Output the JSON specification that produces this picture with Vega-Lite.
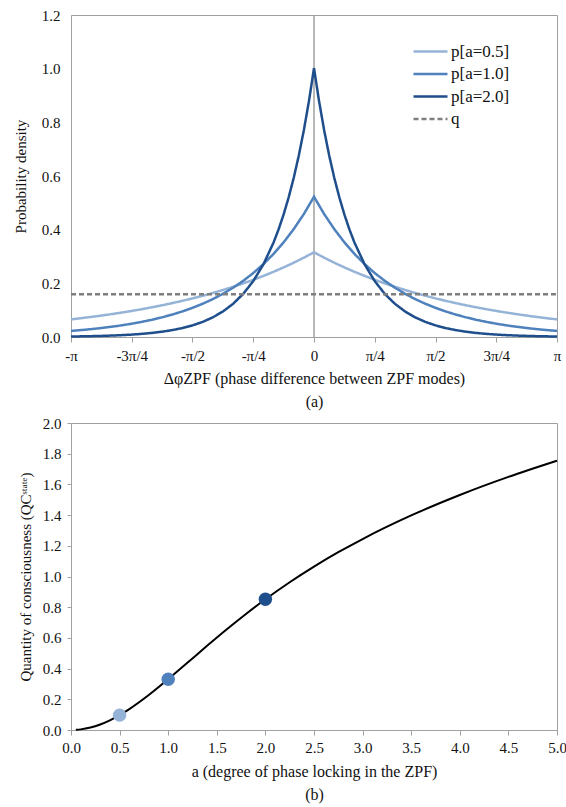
{
  "$schema": "https://vega.github.io/schema/vega-lite/v6.json",
  "background": "white",
  "padding": {"left": 12, "top": 7, "right": 5, "bottom": 2},
  "columns": 1,
  "spacing": 5,
  "datasets": {
    "dens": [
      {"phi": -3.14159, "series": "p[a=0.5]", "density": 0.06561},
      {"phi": -3.0107, "series": "p[a=0.5]", "density": 0.07005},
      {"phi": -2.8798, "series": "p[a=0.5]", "density": 0.07479},
      {"phi": -2.7489, "series": "p[a=0.5]", "density": 0.07985},
      {"phi": -2.618, "series": "p[a=0.5]", "density": 0.08525},
      {"phi": -2.4871, "series": "p[a=0.5]", "density": 0.09101},
      {"phi": -2.3562, "series": "p[a=0.5]", "density": 0.09717},
      {"phi": -2.2253, "series": "p[a=0.5]", "density": 0.10374},
      {"phi": -2.0944, "series": "p[a=0.5]", "density": 0.11076},
      {"phi": -1.9635, "series": "p[a=0.5]", "density": 0.11825},
      {"phi": -1.8326, "series": "p[a=0.5]", "density": 0.12625},
      {"phi": -1.7017, "series": "p[a=0.5]", "density": 0.13479},
      {"phi": -1.5708, "series": "p[a=0.5]", "density": 0.14391},
      {"phi": -1.4399, "series": "p[a=0.5]", "density": 0.15364},
      {"phi": -1.309, "series": "p[a=0.5]", "density": 0.16403},
      {"phi": -1.1781, "series": "p[a=0.5]", "density": 0.17513},
      {"phi": -1.0472, "series": "p[a=0.5]", "density": 0.18697},
      {"phi": -0.9163, "series": "p[a=0.5]", "density": 0.19962},
      {"phi": -0.7854, "series": "p[a=0.5]", "density": 0.21312},
      {"phi": -0.6545, "series": "p[a=0.5]", "density": 0.22753},
      {"phi": -0.5236, "series": "p[a=0.5]", "density": 0.24292},
      {"phi": -0.3927, "series": "p[a=0.5]", "density": 0.25935},
      {"phi": -0.2618, "series": "p[a=0.5]", "density": 0.27689},
      {"phi": -0.1309, "series": "p[a=0.5]", "density": 0.29562},
      {"phi": 0, "series": "p[a=0.5]", "density": 0.31561},
      {"phi": 0.1309, "series": "p[a=0.5]", "density": 0.29562},
      {"phi": 0.2618, "series": "p[a=0.5]", "density": 0.27689},
      {"phi": 0.3927, "series": "p[a=0.5]", "density": 0.25935},
      {"phi": 0.5236, "series": "p[a=0.5]", "density": 0.24292},
      {"phi": 0.6545, "series": "p[a=0.5]", "density": 0.22753},
      {"phi": 0.7854, "series": "p[a=0.5]", "density": 0.21312},
      {"phi": 0.9163, "series": "p[a=0.5]", "density": 0.19962},
      {"phi": 1.0472, "series": "p[a=0.5]", "density": 0.18697},
      {"phi": 1.1781, "series": "p[a=0.5]", "density": 0.17513},
      {"phi": 1.309, "series": "p[a=0.5]", "density": 0.16403},
      {"phi": 1.4399, "series": "p[a=0.5]", "density": 0.15364},
      {"phi": 1.5708, "series": "p[a=0.5]", "density": 0.14391},
      {"phi": 1.7017, "series": "p[a=0.5]", "density": 0.13479},
      {"phi": 1.8326, "series": "p[a=0.5]", "density": 0.12625},
      {"phi": 1.9635, "series": "p[a=0.5]", "density": 0.11825},
      {"phi": 2.0944, "series": "p[a=0.5]", "density": 0.11076},
      {"phi": 2.2253, "series": "p[a=0.5]", "density": 0.10374},
      {"phi": 2.3562, "series": "p[a=0.5]", "density": 0.09717},
      {"phi": 2.4871, "series": "p[a=0.5]", "density": 0.09101},
      {"phi": 2.618, "series": "p[a=0.5]", "density": 0.08525},
      {"phi": 2.7489, "series": "p[a=0.5]", "density": 0.07985},
      {"phi": 2.8798, "series": "p[a=0.5]", "density": 0.07479},
      {"phi": 3.0107, "series": "p[a=0.5]", "density": 0.07005},
      {"phi": 3.14159, "series": "p[a=0.5]", "density": 0.06561},

      {"phi": -3.14159, "series": "p[a=1.0]", "density": 0.02258},
      {"phi": -3.0107, "series": "p[a=1.0]", "density": 0.02574},
      {"phi": -2.8798, "series": "p[a=1.0]", "density": 0.02934},
      {"phi": -2.7489, "series": "p[a=1.0]", "density": 0.03344},
      {"phi": -2.618, "series": "p[a=1.0]", "density": 0.03812},
      {"phi": -2.4871, "series": "p[a=1.0]", "density": 0.04345},
      {"phi": -2.3562, "series": "p[a=1.0]", "density": 0.04953},
      {"phi": -2.2253, "series": "p[a=1.0]", "density": 0.05646},
      {"phi": -2.0944, "series": "p[a=1.0]", "density": 0.06436},
      {"phi": -1.9635, "series": "p[a=1.0]", "density": 0.07336},
      {"phi": -1.8326, "series": "p[a=1.0]", "density": 0.08362},
      {"phi": -1.7017, "series": "p[a=1.0]", "density": 0.09531},
      {"phi": -1.5708, "series": "p[a=1.0]", "density": 0.10864},
      {"phi": -1.4399, "series": "p[a=1.0]", "density": 0.12383},
      {"phi": -1.309, "series": "p[a=1.0]", "density": 0.14115},
      {"phi": -1.1781, "series": "p[a=1.0]", "density": 0.16089},
      {"phi": -1.0472, "series": "p[a=1.0]", "density": 0.18339},
      {"phi": -0.9163, "series": "p[a=1.0]", "density": 0.20904},
      {"phi": -0.7854, "series": "p[a=1.0]", "density": 0.23827},
      {"phi": -0.6545, "series": "p[a=1.0]", "density": 0.27159},
      {"phi": -0.5236, "series": "p[a=1.0]", "density": 0.30957},
      {"phi": -0.3927, "series": "p[a=1.0]", "density": 0.35286},
      {"phi": -0.2618, "series": "p[a=1.0]", "density": 0.40221},
      {"phi": -0.1309, "series": "p[a=1.0]", "density": 0.45846},
      {"phi": 0, "series": "p[a=1.0]", "density": 0.52258},
      {"phi": 0.1309, "series": "p[a=1.0]", "density": 0.45846},
      {"phi": 0.2618, "series": "p[a=1.0]", "density": 0.40221},
      {"phi": 0.3927, "series": "p[a=1.0]", "density": 0.35286},
      {"phi": 0.5236, "series": "p[a=1.0]", "density": 0.30957},
      {"phi": 0.6545, "series": "p[a=1.0]", "density": 0.27159},
      {"phi": 0.7854, "series": "p[a=1.0]", "density": 0.23827},
      {"phi": 0.9163, "series": "p[a=1.0]", "density": 0.20904},
      {"phi": 1.0472, "series": "p[a=1.0]", "density": 0.18339},
      {"phi": 1.1781, "series": "p[a=1.0]", "density": 0.16089},
      {"phi": 1.309, "series": "p[a=1.0]", "density": 0.14115},
      {"phi": 1.4399, "series": "p[a=1.0]", "density": 0.12383},
      {"phi": 1.5708, "series": "p[a=1.0]", "density": 0.10864},
      {"phi": 1.7017, "series": "p[a=1.0]", "density": 0.09531},
      {"phi": 1.8326, "series": "p[a=1.0]", "density": 0.08362},
      {"phi": 1.9635, "series": "p[a=1.0]", "density": 0.07336},
      {"phi": 2.0944, "series": "p[a=1.0]", "density": 0.06436},
      {"phi": 2.2253, "series": "p[a=1.0]", "density": 0.05646},
      {"phi": 2.3562, "series": "p[a=1.0]", "density": 0.04953},
      {"phi": 2.4871, "series": "p[a=1.0]", "density": 0.04345},
      {"phi": 2.618, "series": "p[a=1.0]", "density": 0.03812},
      {"phi": 2.7489, "series": "p[a=1.0]", "density": 0.03344},
      {"phi": 2.8798, "series": "p[a=1.0]", "density": 0.02934},
      {"phi": 3.0107, "series": "p[a=1.0]", "density": 0.02574},
      {"phi": 3.14159, "series": "p[a=1.0]", "density": 0.02258},

      {"phi": -3.14159, "series": "p[a=2.0]", "density": 0.00187},
      {"phi": -3.0107, "series": "p[a=2.0]", "density": 0.00243},
      {"phi": -2.8798, "series": "p[a=2.0]", "density": 0.00316},
      {"phi": -2.7489, "series": "p[a=2.0]", "density": 0.0041},
      {"phi": -2.618, "series": "p[a=2.0]", "density": 0.00533},
      {"phi": -2.4871, "series": "p[a=2.0]", "density": 0.00693},
      {"phi": -2.3562, "series": "p[a=2.0]", "density": 0.009},
      {"phi": -2.2253, "series": "p[a=2.0]", "density": 0.01169},
      {"phi": -2.0944, "series": "p[a=2.0]", "density": 0.01519},
      {"phi": -1.9635, "series": "p[a=2.0]", "density": 0.01974},
      {"phi": -1.8326, "series": "p[a=2.0]", "density": 0.02565},
      {"phi": -1.7017, "series": "p[a=2.0]", "density": 0.03333},
      {"phi": -1.5708, "series": "p[a=2.0]", "density": 0.0433},
      {"phi": -1.4399, "series": "p[a=2.0]", "density": 0.05626},
      {"phi": -1.309, "series": "p[a=2.0]", "density": 0.07309},
      {"phi": -1.1781, "series": "p[a=2.0]", "density": 0.09496},
      {"phi": -1.0472, "series": "p[a=2.0]", "density": 0.12338},
      {"phi": -0.9163, "series": "p[a=2.0]", "density": 0.1603},
      {"phi": -0.7854, "series": "p[a=2.0]", "density": 0.20827},
      {"phi": -0.6545, "series": "p[a=2.0]", "density": 0.2706},
      {"phi": -0.5236, "series": "p[a=2.0]", "density": 0.35158},
      {"phi": -0.45815, "series": "p[a=2.0]", "density": 0.40075},
      {"phi": -0.3927, "series": "p[a=2.0]", "density": 0.4568},
      {"phi": -0.32725, "series": "p[a=2.0]", "density": 0.52068},
      {"phi": -0.2618, "series": "p[a=2.0]", "density": 0.5935},
      {"phi": -0.19635, "series": "p[a=2.0]", "density": 0.6765},
      {"phi": -0.1309, "series": "p[a=2.0]", "density": 0.77111},
      {"phi": -0.06545, "series": "p[a=2.0]", "density": 0.87895},
      {"phi": 0, "series": "p[a=2.0]", "density": 1.00187},
      {"phi": 0.06545, "series": "p[a=2.0]", "density": 0.87895},
      {"phi": 0.1309, "series": "p[a=2.0]", "density": 0.77111},
      {"phi": 0.19635, "series": "p[a=2.0]", "density": 0.6765},
      {"phi": 0.2618, "series": "p[a=2.0]", "density": 0.5935},
      {"phi": 0.32725, "series": "p[a=2.0]", "density": 0.52068},
      {"phi": 0.3927, "series": "p[a=2.0]", "density": 0.4568},
      {"phi": 0.45815, "series": "p[a=2.0]", "density": 0.40075},
      {"phi": 0.5236, "series": "p[a=2.0]", "density": 0.35158},
      {"phi": 0.6545, "series": "p[a=2.0]", "density": 0.2706},
      {"phi": 0.7854, "series": "p[a=2.0]", "density": 0.20827},
      {"phi": 0.9163, "series": "p[a=2.0]", "density": 0.1603},
      {"phi": 1.0472, "series": "p[a=2.0]", "density": 0.12338},
      {"phi": 1.1781, "series": "p[a=2.0]", "density": 0.09496},
      {"phi": 1.309, "series": "p[a=2.0]", "density": 0.07309},
      {"phi": 1.4399, "series": "p[a=2.0]", "density": 0.05626},
      {"phi": 1.5708, "series": "p[a=2.0]", "density": 0.0433},
      {"phi": 1.7017, "series": "p[a=2.0]", "density": 0.03333},
      {"phi": 1.8326, "series": "p[a=2.0]", "density": 0.02565},
      {"phi": 1.9635, "series": "p[a=2.0]", "density": 0.01974},
      {"phi": 2.0944, "series": "p[a=2.0]", "density": 0.01519},
      {"phi": 2.2253, "series": "p[a=2.0]", "density": 0.01169},
      {"phi": 2.3562, "series": "p[a=2.0]", "density": 0.009},
      {"phi": 2.4871, "series": "p[a=2.0]", "density": 0.00693},
      {"phi": 2.618, "series": "p[a=2.0]", "density": 0.00533},
      {"phi": 2.7489, "series": "p[a=2.0]", "density": 0.0041},
      {"phi": 2.8798, "series": "p[a=2.0]", "density": 0.00316},
      {"phi": 3.0107, "series": "p[a=2.0]", "density": 0.00243},
      {"phi": 3.14159, "series": "p[a=2.0]", "density": 0.00187},

      {"phi": -3.14159, "series": "q", "density": 0.15915},
      {"phi": 3.14159, "series": "q", "density": 0.15915}
    ],
    "zero": [{"phi": 0}],
    "qc": [
      {"a": 0.05, "Q": 0.00103},
      {"a": 0.1, "Q": 0.0041},
      {"a": 0.2, "Q": 0.01629},
      {"a": 0.3, "Q": 0.03621},
      {"a": 0.4, "Q": 0.0633},
      {"a": 0.5, "Q": 0.09688},
      {"a": 0.6, "Q": 0.13603},
      {"a": 0.8, "Q": 0.22759},
      {"a": 1.0, "Q": 0.3308},
      {"a": 1.2, "Q": 0.43934},
      {"a": 1.4, "Q": 0.54835},
      {"a": 1.6, "Q": 0.65451},
      {"a": 1.8, "Q": 0.75589},
      {"a": 2.0, "Q": 0.8515},
      {"a": 2.25, "Q": 0.96254},
      {"a": 2.5, "Q": 1.06446},
      {"a": 2.75, "Q": 1.15804},
      {"a": 3.0, "Q": 1.24419},
      {"a": 3.5, "Q": 1.39769},
      {"a": 4.0, "Q": 1.53107},
      {"a": 4.5, "Q": 1.64882},
      {"a": 5.0, "Q": 1.75417}
    ],
    "pts": [
      {"a": 0.5, "Q": 0.09688, "series": "p[a=0.5]"},
      {"a": 1.0, "Q": 0.3308, "series": "p[a=1.0]"},
      {"a": 2.0, "Q": 0.8515, "series": "p[a=2.0]"}
    ]
  },
  "concat": [
    {
      "width": 486,
      "height": 322,
      "encoding": {
        "x": {
          "field": "phi", "type": "quantitative",
          "scale": {"domain": [-3.14159265, 3.14159265], "nice": false, "zero": false},
          "axis": {
            "values": [-3.14159265, -2.35619449, -1.57079633, -0.78539816, 0, 0.78539816, 1.57079633, 2.35619449, 3.14159265],
            "labelExpr": "['-π','-3π/4','-π/2','-π/4','0','π/4','π/2','3π/4','π'][round(datum.value*4/PI)+4]",
            "tickSize": 5,
            "labelPadding": 6,
            "labelOverlap": false,
            "title": ["ΔφZPF (phase difference between ZPF modes)", "(a)"],
            "titlePadding": 7
          }
        }
      },
      "layer": [
        {
          "data": {"name": "zero"},
          "mark": {"type": "rule", "color": "#A0A0A0", "strokeWidth": 1.5},
          "encoding": {}
        },
        {
          "data": {"name": "dens"},
          "mark": {"type": "line", "strokeWidth": 2.5},
          "encoding": {
            "y": {
              "field": "density", "type": "quantitative",
              "scale": {"domain": [0, 1.2], "nice": false},
              "axis": {
                "values": [0, 0.2, 0.4, 0.6, 0.8, 1.0, 1.2],
                "format": ".1f",
                "ticks": false,
                "labelPadding": 11,
                "labelOverlap": false,
                "title": "Probability density",
                "titlePadding": 13
              }
            },
            "color": {
              "field": "series", "type": "nominal",
              "scale": {"domain": ["p[a=0.5]", "p[a=1.0]", "p[a=2.0]", "q"], "range": ["#95B3D7", "#4F81BD", "#1F4E8C", "#7F7F7F"]},
              "legend": {"title": null, "orient": "none", "legendX": 341, "legendY": 28, "symbolType": "stroke", "symbolSize": 1156, "symbolStrokeWidth": 2.5, "labelFontSize": 17, "labelColor": "#111", "clipHeight": 17, "rowPadding": 4.5, "labelOffset": 2}
            },
            "strokeDash": {
              "field": "series", "type": "nominal",
              "scale": {"domain": ["p[a=0.5]", "p[a=1.0]", "p[a=2.0]", "q"], "range": [[1, 0], [1, 0], [1, 0], [5, 3]]},
              "legend": {"title": null, "orient": "none", "legendX": 341, "legendY": 28, "symbolType": "stroke", "symbolSize": 1156, "symbolStrokeWidth": 2.5, "labelFontSize": 17, "labelColor": "#111", "clipHeight": 17, "rowPadding": 4.5, "labelOffset": 2}
            }
          }
        }
      ]
    },
    {
      "width": 486,
      "height": 307,
      "encoding": {
        "x": {
          "field": "a", "type": "quantitative",
          "scale": {"domain": [0, 5], "nice": false},
          "axis": {
            "values": [0, 0.5, 1, 1.5, 2, 2.5, 3, 3.5, 4, 4.5, 5],
            "format": ".1f",
            "tickSize": 5,
            "labelPadding": 5,
            "labelOverlap": false,
            "title": ["a (degree of phase locking in the ZPF)", "(b)"],
            "titlePadding": 8
          }
        },
        "y": {
          "field": "Q", "type": "quantitative",
          "scale": {"domain": [0, 2], "nice": false},
          "axis": {
            "values": [0, 0.2, 0.4, 0.6, 0.8, 1.0, 1.2, 1.4, 1.6, 1.8, 2.0],
            "format": ".1f",
            "tickSize": 4,
            "labelPadding": 6,
            "labelOverlap": false,
            "title": "Quantity of consciousness (QCˢᵗᵃᵗᵉ)",
            "titlePadding": 9
          }
        }
      },
      "layer": [
        {
          "data": {"name": "qc"},
          "mark": {"type": "line", "color": "#000000", "strokeWidth": 2, "interpolate": "monotone"}
        },
        {
          "data": {"name": "pts"},
          "mark": {"type": "circle", "size": 180, "opacity": 1},
          "encoding": {
            "color": {
              "field": "series", "type": "nominal",
              "scale": {"domain": ["p[a=0.5]", "p[a=1.0]", "p[a=2.0]"], "range": ["#95B3D7", "#4F81BD", "#1F4E8C"]},
              "legend": null
            }
          }
        }
      ]
    }
  ],
  "resolve": {"scale": {"color": "independent", "strokeDash": "independent"}},
  "config": {
    "font": "Liberation Serif, Times New Roman, DejaVu Serif, serif",
    "view": {"stroke": "#A0A0A0", "strokeWidth": 1},
    "legend": {"labelFont": "Liberation Serif, Times New Roman, DejaVu Serif, serif"},
    "axis": {
      "grid": false,
      "domainColor": "#A0A0A0",
      "tickColor": "#A0A0A0",
      "labelFont": "Liberation Serif, Times New Roman, DejaVu Serif, serif",
      "labelFontSize": 15,
      "labelColor": "#111",
      "labelFlush": false,
      "titleFont": "Liberation Serif, Times New Roman, DejaVu Serif, serif",
      "titleFontSize": 16,
      "titleFontWeight": "normal",
      "titleColor": "#111",
      "titleLineHeight": 23
    },
    "axisY": {"titleFontSize": 15}
  }
}
